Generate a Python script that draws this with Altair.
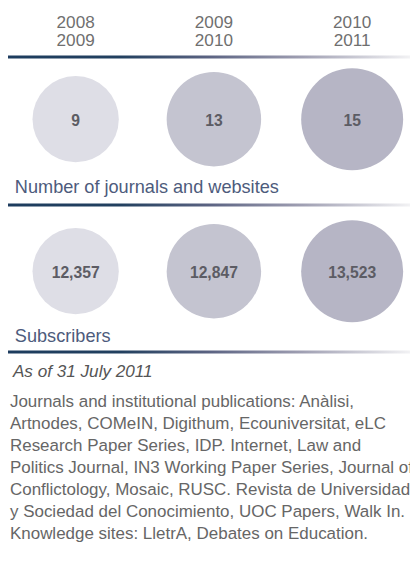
import altair as alt
import pandas as pd

# ---- data ----
periods = ["2008\n2009", "2009\n2010", "2010\n2011"]
metrics = ["Number of journals and websites", "Subscribers"]
journals = [9, 13, 15]
subscribers = [12357, 12847, 13523]
circle_colors = ["#dedee6", "#c4c4d0", "#b6b5c5"]
note = "As of 31 July 2011"
paragraph = [
    "Journals and institutional publications: Anàlisi,",
    "Artnodes, COMeIN, Digithum, Ecouniversitat, eLC",
    "Research Paper Series, IDP. Internet, Law and",
    "Politics Journal, IN3 Working Paper Series, Journal of",
    "Conflictology, Mosaic, RUSC. Revista de Universidad",
    "y Sociedad del Conocimiento, UOC Papers, Walk In.",
    "Knowledge sites: LletrA, Debates on Education.",
]

rows = []
for p, v in zip(periods, journals):
    rows.append({"period": p, "metric": metrics[0], "value": v})
for p, v in zip(periods, subscribers):
    rows.append({"period": p, "metric": metrics[1], "value": v})
df = pd.DataFrame(rows)

FONT = "Helvetica, Arial, Liberation Sans, sans-serif"
W, H = 410, 546

xs = alt.X("period:N", sort=periods, axis=None,
           scale=alt.Scale(type="point", domain=periods, range=[69, 351], padding=0))
ys = alt.Y("metric:N", sort=metrics, axis=None,
           scale=alt.Scale(type="point", domain=metrics, range=[108, 263], padding=0))

base = alt.Chart(df)

circles = base.mark_point(shape="circle", filled=True, opacity=1, strokeWidth=0).encode(
    x=xs, y=ys,
    size=alt.Size("period:O", sort=periods, legend=None,
                  scale=alt.Scale(type="point", domain=periods, range=[7744, 10816], padding=0)),
    color=alt.Color("period:O", sort=periods, legend=None,
                    scale=alt.Scale(domain=periods, range=circle_colors)),
)

labels = base.mark_text(font=FONT, fontSize=16, fontWeight="bold", color="#5c5c64",
                        baseline="middle", dy=2).encode(
    x=xs, y=ys, text=alt.Text("value:Q", format=",d"))

headers = alt.Chart(pd.DataFrame({"period": periods})).mark_text(
    font=FONT, fontSize=17.5, color="#6f6f6f", baseline="alphabetic",
    lineBreak="\n", lineHeight=18.5).encode(
    x=xs, y=alt.value(15), text="period:N")

one = alt.Data(values=[{"k": 1}])

grad = alt.LinearGradient(
    gradient="linear", x1=0, x2=1, y1=0, y2=0,
    stops=[
        alt.GradientStop(color="#1d3c5e", offset=0),
        alt.GradientStop(color="#22405f", offset=0.28),
        alt.GradientStop(color="#5b6382", offset=0.5),
        alt.GradientStop(color="#9c9cb0", offset=0.72),
        alt.GradientStop(color="#f2f2f4", offset=1),
    ],
)

def divider(y):
    return alt.Chart(one).mark_rect(fill=grad).encode(
        x=alt.value(0), x2=alt.value(W), y=alt.value(y), y2=alt.value(y + 3))

def title(txt, y):
    return alt.Chart(one).mark_text(
        font=FONT, fontSize=18.5, color="#4d5b7c", align="left", baseline="alphabetic",
        text=txt).encode(x=alt.value(7), y=alt.value(y))

note_mark = alt.Chart(one).mark_text(
    font=FONT, fontSize=17.5, fontStyle="italic", color="#555555", align="left",
    baseline="alphabetic", text=note).encode(x=alt.value(5), y=alt.value(371))

para = alt.Chart(one).mark_text(
    font=FONT, fontSize=17.3, color="#666666", align="left", baseline="alphabetic",
    lineHeight=22.5, text=paragraph).encode(x=alt.value(2), y=alt.value(401))

chart = alt.layer(
    headers, divider(43), circles, labels, title(metrics[0], 183), divider(194),
    title(metrics[1], 335), divider(344), note_mark, para,
).properties(
    width=W, height=H, padding=0,
    autosize=alt.AutoSizeParams(type="fit", contains="padding"),
).configure_view(stroke=None)

chart.save("out.html", embed_options={"renderer": "svg", "actions": False})
